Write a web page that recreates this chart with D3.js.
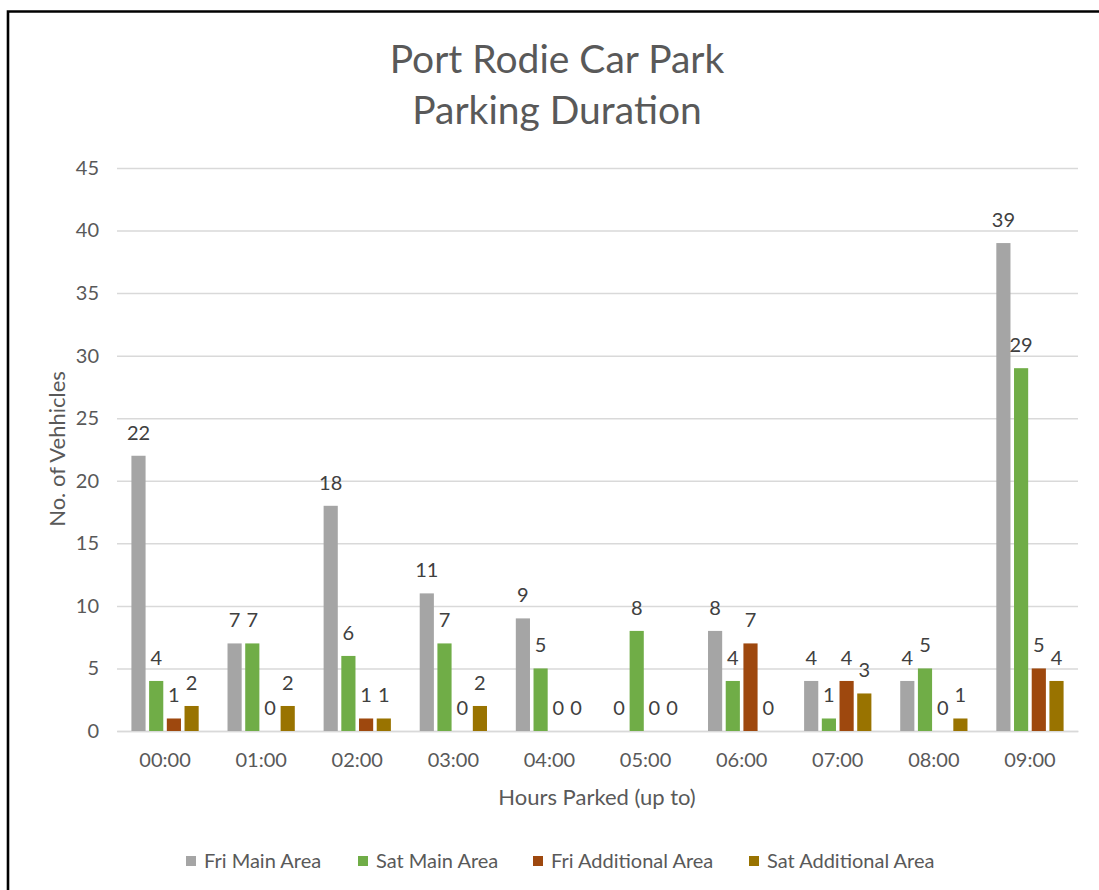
<!DOCTYPE html>
<html>
<head>
<meta charset="utf-8">
<script src="https://cdn.jsdelivr.net/npm/d3@7"></script>
<style>
  html, body { margin: 0; padding: 0; background: #fff; }
  svg { display: block; }
  text { font-family: Lato, "Open Sans", sans-serif; }
</style>
</head>
<body>
<svg id="chart" width="1099" height="890"></svg>
<script>
// Parking duration by hours parked, per area and day
const hours = ["00:00", "01:00", "02:00", "03:00", "04:00", "05:00", "06:00", "07:00", "08:00", "09:00"];
const seriesNames = ["Fri Main Area", "Sat Main Area", "Fri Additional Area", "Sat Additional Area"];
const friMain = [22, 7, 18, 11, 9, 0, 8, 4, 4, 39];
const satMain = [4, 7, 6, 7, 5, 8, 4, 1, 5, 29];
const friAdditional = [1, 0, 1, 0, 0, 0, 7, 4, 0, 5];
const satAdditional = [2, 2, 1, 2, 0, 0, 0, 3, 1, 4];
const yTicks = [0, 5, 10, 15, 20, 25, 30, 35, 40, 45];

const seriesValues = [friMain, satMain, friAdditional, satAdditional];
const colors = ["#A5A5A5", "#70AD47", "#9E480E", "#997300"];

const svg = d3.select("#chart");

// frame around the chart
svg.append("path")
  .attr("d", "M8,890 L8,11.5 L1099,11.5")
  .attr("fill", "none")
  .attr("stroke", "#000")
  .attr("stroke-width", 2.6);

const x0 = d3.scaleBand().domain(hours).range([117, 1078]).paddingInner(0.3).paddingOuter(0.15);
const x1 = d3.scaleBand().domain(seriesNames).range([0, x0.bandwidth()]).paddingInner(0.2);
const y = d3.scaleLinear().domain([0, 45]).range([731, 168]);

// gridlines and value axis labels
const yAxis = d3.axisLeft(y).tickValues(yTicks).tickSize(-(1078 - 117)).tickPadding(18);
const gy = svg.append("g").attr("transform", "translate(117,0)").call(yAxis);
gy.select(".domain").remove();
gy.selectAll(".tick line").attr("stroke", "#D9D9D9").attr("stroke-width", 1.5);
gy.selectAll(".tick text").attr("fill", "#595959").style("font-size", "20px");

// category axis
const xAxis = d3.axisBottom(x0).tickSize(0).tickPadding(22);
const gx = svg.append("g").attr("transform", "translate(0,731)").call(xAxis);
gx.select(".domain").attr("stroke", "#D9D9D9").attr("stroke-width", 1.5);
gx.selectAll(".tick text").attr("fill", "#595959").style("font-size", "20px");

// bars
const rows = hours.map((h, i) => ({ hour: h, items: seriesNames.map((s, k) => ({ series: s, value: seriesValues[k][i], color: colors[k] })) }));
const groups = svg.append("g").selectAll("g").data(rows).join("g")
  .attr("transform", d => `translate(${x0(d.hour)},0)`);

groups.selectAll("rect").data(d => d.items).join("rect")
  .attr("x", d => x1(d.series))
  .attr("y", d => y(d.value))
  .attr("width", x1.bandwidth())
  .attr("height", d => y(0) - y(d.value))
  .attr("fill", d => d.color);

// value labels
groups.selectAll("text").data(d => d.items).join("text")
  .attr("x", d => x1(d.series) + x1.bandwidth() / 2)
  .attr("y", d => y(d.value) - 16)
  .attr("text-anchor", "middle")
  .attr("fill", "#404040")
  .style("font-size", "20px")
  .text(d => d.value);

// title
const title = svg.append("text").attr("text-anchor", "middle").attr("fill", "#595959").style("font-size", "39px");
title.append("tspan").attr("x", 557).attr("y", 73).text("Port Rodie Car Park");
title.append("tspan").attr("x", 557).attr("y", 124).text("Parking Duration");

// axis titles
svg.append("text")
  .attr("transform", "translate(65,449) rotate(-90)")
  .attr("text-anchor", "middle")
  .attr("fill", "#595959")
  .style("font-size", "22px")
  .text("No. of Vehhicles");

svg.append("text")
  .attr("x", 597).attr("y", 805)
  .attr("text-anchor", "middle")
  .attr("fill", "#595959")
  .style("font-size", "22px")
  .text("Hours Parked (up to)");

// legend
const legendX = [186, 358, 533, 749];
const legend = svg.append("g").selectAll("g").data(seriesNames).join("g")
  .attr("transform", (d, i) => `translate(${legendX[i]},861)`);
legend.append("rect").attr("x", 0).attr("y", -5).attr("width", 10).attr("height", 10)
  .attr("fill", (d, i) => colors[i]);
legend.append("text").attr("x", 18).attr("y", 7)
  .attr("fill", "#595959").style("font-size", "20px")
  .text(d => d);
</script>
</body>
</html>
